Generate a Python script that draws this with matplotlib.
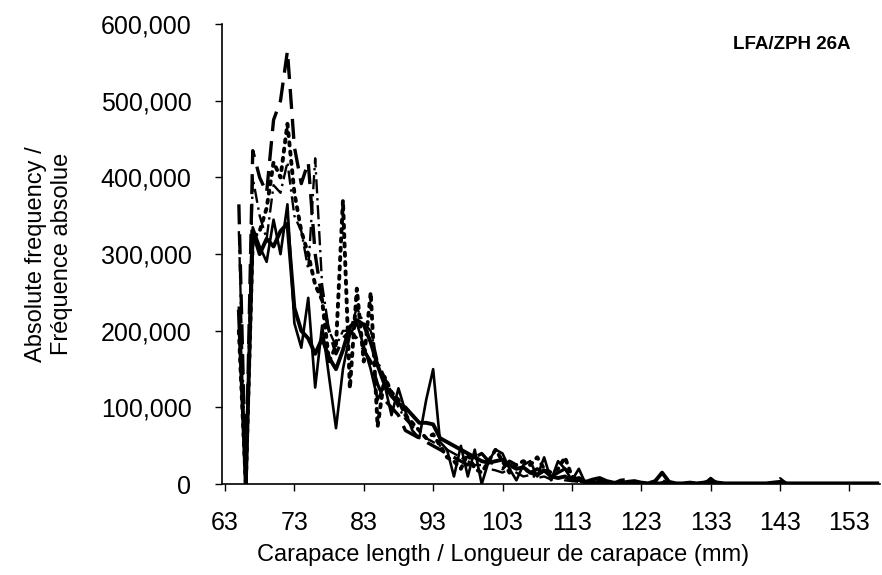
import matplotlib.pyplot as plt
from matplotlib.ticker import FuncFormatter

plt.rcParams['font.family'] = ['Liberation Sans', 'DejaVu Sans']

# carapace length classes (mm)
lengths = list(range(65, 158))

zigzag_head = [230, 0, 335, 310, 290, 345, 300, 365, 210, 178,
               243, 126, 207, 140, 73, 150, 195, 210, 180, 150,
               110, 130, 90, 125, 95, 70, 60, 110, 150, 55,
               45, 10, 50, 10, 45, 0, 30, 45, 40, 20,
               5, 25, 30, 10, 35, 5, 30, 20, 5, 20,
               0, 0, 5, 0, 2, 0]
smooth_head = [225, 0, 330, 300, 320, 310, 330, 340, 230, 200,
               190, 170, 190, 165, 150, 175, 205, 214, 208, 185,
               155, 130, 115, 105, 100, 90, 80, 80, 78, 60,
               55, 50, 45, 40, 35, 30, 28, 30, 32, 25,
               20, 22, 15, 12, 18, 10, 8, 10, 5, 8,
               3, 6, 8, 4, 2, 1]
dashed_head = [365, 0, 435, 400, 380, 475, 500, 565, 440, 392,
               420, 300, 240, 200, 170, 190, 200, 190, 175, 160,
               130, 110, 100, 90, 70, 65, 60, 55, 50, 45,
               40, 35, 30, 25, 35, 40, 30, 25, 20, 30,
               25, 20, 15, 20, 15, 10, 15, 20, 10, 5,
               3, 2, 4, 2, 1, 5]
dotted_head = [200, 0, 320, 330, 360, 420, 400, 470, 380, 330,
               300, 260, 240, 160, 180, 370, 125, 255, 160, 250,
               75, 140, 120, 110, 90, 80, 70, 60, 65, 50,
               35, 30, 20, 40, 20, 15, 30, 45, 30, 15,
               25, 30, 25, 35, 20, 15, 20, 35, 10, 5,
               2, 1, 3, 1, 0, 2]
dashdot_head = [330, 0, 400, 350, 320, 390, 380, 420, 350, 330,
                280, 425, 260, 200, 180, 200, 200, 230, 210, 200,
                160, 140, 120, 100, 85, 75, 70, 60, 55, 50,
                45, 40, 35, 30, 25, 25, 20, 18, 15, 20,
                15, 10, 12, 8, 10, 6, 8, 5, 4, 3,
                2, 2, 1, 1, 0, 1]

# 121..157 mm, mostly empty with a few small bumps
zigzag_tail = [0, 2, 1, 0, 1, 2, 0, 0, 1, 2, 0, 0, 8, 1, 0, 0, 0, 0, 0, 0,
               0, 0, 0, 1, 0, 0, 0, 0, 0, 0, 0, 0, 0, 0, 0, 0, 0]
smooth_tail = [3, 4, 2, 1, 4, 15, 3, 1, 1, 2, 1, 2, 4, 2, 1, 1, 1, 1, 1, 1,
               1, 2, 3, 1, 1, 1, 1, 1, 1, 1, 1, 1, 1, 1, 1, 1, 1]
dashed_tail = [6, 3, 1, 0, 0, 5, 0, 0, 0, 0, 0, 0, 3, 0, 0, 0, 0, 0, 0, 0,
               0, 0, 7, 0, 0, 0, 0, 0, 0, 0, 0, 0, 0, 0, 0, 0, 0]
dotted_tail = [1, 0, 0, 0, 0, 3, 0, 0, 0, 0, 0, 0, 2, 0, 0, 0, 0, 0, 0, 0,
               0, 0, 0, 0, 0, 0, 0, 0, 0, 0, 0, 0, 0, 0, 0, 0, 0]
dashdot_tail = [1, 0, 0, 0, 0, 2, 0, 0, 0, 0, 0, 0, 1, 0, 0, 0, 0, 0, 0, 0,
                0, 0, 0, 0, 0, 0, 0, 0, 0, 0, 0, 0, 0, 0, 0, 0, 0]

series = [
    (zigzag_head + zigzag_tail, dict(ls='-', lw=1.9)),
    (smooth_head + smooth_tail, dict(ls='-', lw=2.8)),
    (dashed_head + dashed_tail, dict(ls=(0, (6, 3)), lw=2.4)),
    (dotted_head + dotted_tail, dict(ls=(0, (0.8, 1.6)), lw=2.8, dash_capstyle='round')),
    (dashdot_head + dashdot_tail, dict(ls=(0, (6, 2, 1, 2)), lw=1.7)),
]

x_ticks = list(range(63, 154, 10))
y_ticks = list(range(0, 600001, 100000))

fig = plt.figure(figsize=(8.82, 5.75), dpi=100)
ax = fig.add_axes([0.2517, 0.158, 0.746, 0.8])

for values, style in series:
    ax.plot(lengths, [v * 1000 for v in values], color='black', **style)

ax.set_xlim(62.57, 157.4)
ax.set_ylim(0, 600000)
ax.set_xticks(x_ticks)
ax.set_yticks(y_ticks)
ax.yaxis.set_major_formatter(FuncFormatter(lambda v, p: f'{int(v):,}'))
ax.tick_params(direction='out', length=5, width=1, labelsize=18)
ax.tick_params(axis='y', pad=17)
ax.tick_params(axis='x', pad=14)
for side in ['top', 'right']:
    ax.spines[side].set_visible(False)
for side in ['left', 'bottom']:
    ax.spines[side].set_linewidth(1.2)

# x title sits left of the axes centre in the original
fig.text(503 / 882, 1 - 555 / 575, 'Carapace length / Longueur de carapace (mm)',
         ha='center', va='center', fontsize=17)
ax.set_ylabel('Absolute frequency /\nFréquence absolue', fontsize=17, labelpad=20)
ax.text(0.955, 0.975, 'LFA/ZPH 26A', transform=ax.transAxes, ha='right', va='top',
        fontsize=13.5, fontweight='bold')

fig.savefig('out.png', dpi=100)
